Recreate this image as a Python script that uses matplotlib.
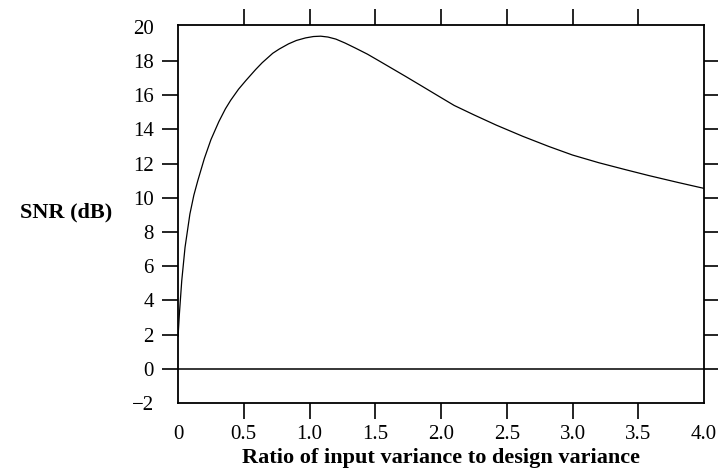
import matplotlib
matplotlib.use("Agg")
import matplotlib.pyplot as plt

# Data
ratio = [0.0, 0.01, 0.028, 0.053, 0.09, 0.12, 0.15, 0.20, 0.25, 0.31, 0.36,
         0.40, 0.46, 0.515, 0.59, 0.64, 0.72, 0.77, 0.84, 0.90, 0.97, 1.03,
         1.085, 1.14, 1.20, 1.27, 1.35, 1.44, 1.53, 1.63, 1.73, 1.85, 1.98,
         2.1, 2.25, 2.42, 2.62, 2.82, 3.0, 3.2, 3.4, 3.58, 3.8, 4.0]
snr_db = [1.9, 3.2, 5.15, 7.1, 9.05, 10.15, 11.0, 12.3, 13.4, 14.45, 15.2,
          15.7, 16.35, 16.85, 17.5, 17.9, 18.45, 18.7, 19.0, 19.2, 19.35, 19.43,
          19.45, 19.4, 19.28, 19.05, 18.75, 18.4, 18.0, 17.55, 17.1, 16.55, 15.95,
          15.4, 14.85, 14.25, 13.6, 13.0, 12.5, 12.05, 11.65, 11.3, 10.9, 10.55]

x_major = [0.5, 1.0, 1.5, 2.0, 2.5, 3.0, 3.5]
x_major_labels = ["0.5", "1.0", "1.5", "2.0", "2.5", "3.0", "3.5"]
x_end = [0.0, 4.0]
x_end_labels = ["0", "4.0"]
y_major = [0, 2, 4, 6, 8, 10, 12, 14, 16, 18]
y_end = [-2, 20]
y_end_labels = ["\u22122", "20"]

plt.rcParams['font.family'] = ['Liberation Serif', 'DejaVu Serif']

fig = plt.figure(figsize=(7.18, 4.73), dpi=100)
ax = fig.add_axes([0.248, 0.148, 0.7325, 0.799])

ax.plot(ratio, snr_db, color='black', lw=0.9, solid_joinstyle='round')
ax.axhline(0, color='black', lw=1.1)

ax.set_xlim(0, 4.0)
ax.set_ylim(-2, 20.1)

for s in ax.spines.values():
    s.set_linewidth(1.3)

ax.set_xticks(x_major)
ax.set_xticklabels(x_major_labels)
ax.set_xticks(x_end, minor=True)
ax.set_xticklabels(x_end_labels, minor=True)
ax.set_yticks(y_major)
ax.set_yticklabels([str(v) for v in y_major])
ax.set_yticks(y_end, minor=True)
ax.set_yticklabels(y_end_labels, minor=True)

ax.tick_params(axis='both', which='major', direction='out', length=11.5, width=1.2,
               labelsize=15, top=True, right=True)
ax.tick_params(axis='x', which='major', pad=4)
ax.tick_params(axis='y', which='major', pad=6)
ax.tick_params(axis='both', which='minor', length=0, labelsize=15)
ax.tick_params(axis='x', which='minor', pad=15.5)
ax.tick_params(axis='y', which='minor', pad=17.5)

ax.set_xlabel("Ratio of input variance to design variance", fontsize=16,
              fontweight='bold', va='center')
ax.xaxis.set_label_coords(0.5, -0.145)
ax.set_ylabel("SNR (dB)", fontsize=16, fontweight='bold', rotation=0,
              ha='left', va='center')
ax.yaxis.set_label_coords(-0.30, 0.503)

fig.savefig("out.png", dpi=100)
